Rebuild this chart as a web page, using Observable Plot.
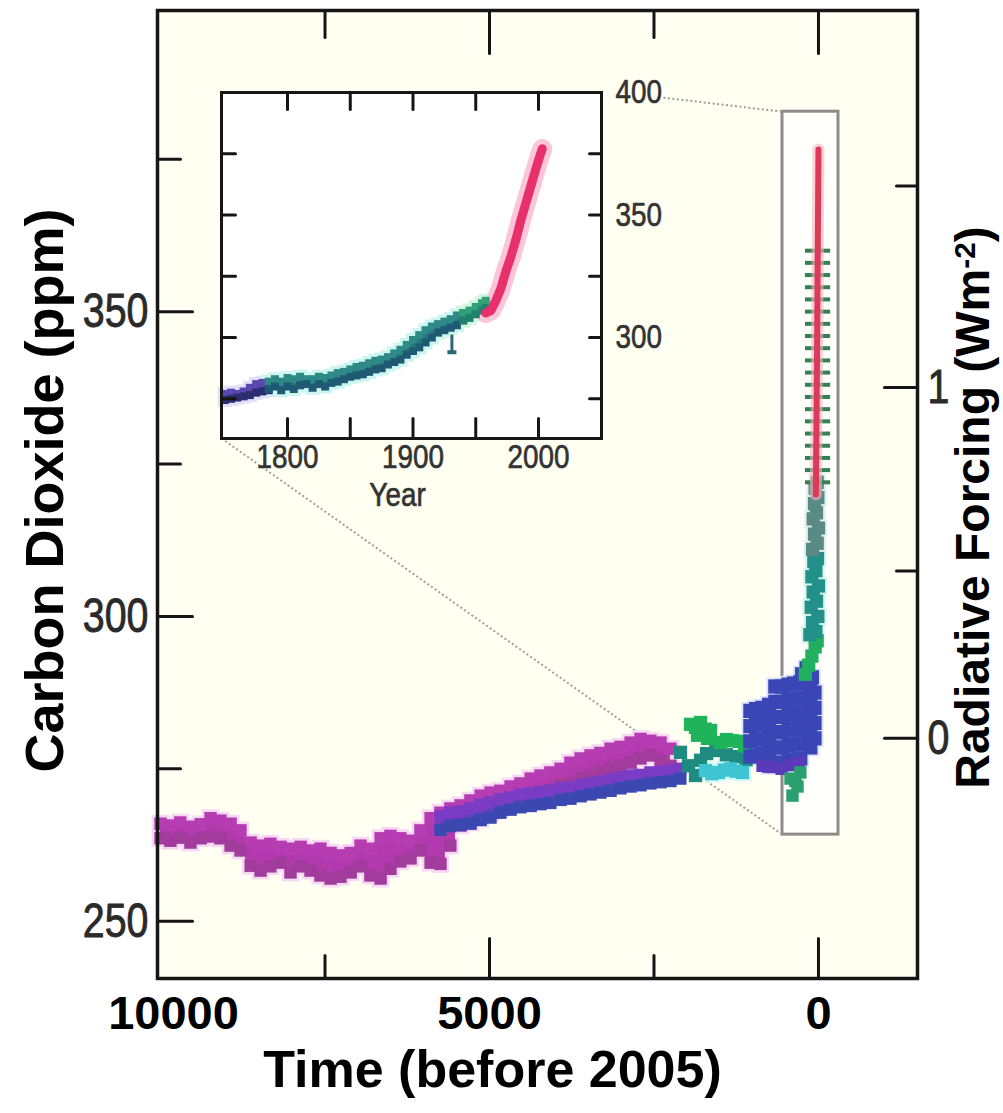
<!DOCTYPE html>
<html><head><meta charset="utf-8">
<script src="https://cdn.jsdelivr.net/npm/d3@7"></script>
<script src="https://cdn.jsdelivr.net/npm/@observablehq/plot@0.6"></script>
<style>
body{margin:0;background:#fff;}
#wrap{position:relative;width:1003px;height:1113px;overflow:hidden;}
#main{position:absolute;left:0;top:0;}
#inset{position:absolute;left:181px;top:62px;}
</style></head>
<body><div id="wrap"><div id="main"></div><div id="inset"></div></div>
<script>
// ---------------- MAIN CHART DATA (years before 2005, CO2 ppm) ----------------
const domeC_t  = [10000,9850,9700,9545,9390,9240,9090,8935,8785,8630,8480,8330,8175,8025,7870,7720,7570,7415,7265,7110,6960,6810,6655,6505,6355,6200,6050,5895,5745,5595,5440,5290,5135,4985,4835,4680,4530,4375,4225,4075,3920,3770,3615,3465,3315,3160,3010,2855,2705,2555,2400,2250];
const domeC_hi = [266.0,265.7,266.2,265.5,265.9,266.9,266.5,266.0,264.9,262.9,262.4,262.7,262.2,261.9,262.2,261.6,261.9,261.2,260.8,261.2,262.4,261.9,263.6,264.0,263.6,263.2,264.9,266.9,267.8,268.5,269.0,269.8,270.6,271.1,271.4,272.1,272.6,273.4,273.9,274.4,275.0,276.0,276.7,277.2,277.6,278.3,278.6,279.3,279.9,279.6,279.3,278.3];
const domeC_lo = [263.6,263.2,263.7,262.9,263.6,263.9,263.6,262.4,261.6,259.1,258.3,259.0,259.6,258.0,259.0,258.3,257.5,257.0,257.3,258.0,259.0,257.5,257.0,258.6,259.8,260.3,261.6,259.6,259.4,262.4,265.7,266.2,266.8,267.8,268.5,269.0,269.8,270.1,270.6,271.4,272.2,272.7,273.4,273.9,274.4,275.0,275.5,276.0,276.7,277.2,276.3,275.5];

const epica_t  = [5745,5595,5440,5290,5135,4985,4835,4680,4530,4375,4225,4075,3920,3770,3615,3465,3315,3160,3010,2855,2705,2555,2400,2250,2100];
const epica_hi = [267.2,267.8,268.0,268.5,269.1,269.5,270.0,270.3,270.8,271.0,271.2,271.4,271.8,271.9,272.3,272.6,272.9,273.2,273.6,273.9,274.0,274.4,274.5,274.7,275.0];
const epica_lo = [265.0,265.6,265.8,266.0,266.6,267.0,267.8,268.3,268.7,268.9,269.2,269.4,269.9,270.1,270.5,270.8,271.1,271.4,271.8,272.1,272.3,272.6,272.8,273.0,273.4];

const lawGreen = [[1945,282.3],[1870,281.8],[1793,282.6],[1720,281.5],[1641,281.3],[1839,280.5],[1687,280.0],[1489,279.3],[1400,279.8],[1307,279.6],[1200,279.5],[1125,278.8]];
const lawTeal  = [[2097,277.7],[1975,275.5],[1869,273.9],[1793,276.4],[1700,277.5],[1560,278.0],[1400,277.3],[1250,277.0],[1100,276.5]];
const lawCyan  = [[1717,274.7],[1620,274.2],[1520,274.4],[1430,274.8],[1338,275.0],[1250,274.6],[1155,274.4]];
const lawBlue  = [
  [1035,284.5],[1035,282],[1035,279.5],[1035,277],[950,284.8],[950,282.3],[950,279.8],[950,277.2],
  [853,285],[853,282.5],[853,280],[853,277.5],[750,285.5],[750,283],[750,280.5],[750,278],[750,275.5],
  [656,288.5],[656,286],[656,283.5],[656,281],[656,278.5],[656,276],[560,288.5],[560,286],[560,283.5],[560,281],[560,278.5],[560,276],
  [458,288.8],[458,286.3],[458,283.8],[458,281.3],[458,278.8],[458,276.3],[370,289],[370,286.5],[370,284],[370,281.5],[370,279],[370,276.5],
  [276,289.2],[276,286.7],[276,284.2],[276,281.7],[276,279.2],[276,276.7],[200,289],[200,286.5],[200,284],[200,281.5],[200,279],
  [124,288.5],[124,286],[124,283.5],[124,281],[124,278.5],[60,287.5],[60,285],[60,282.5],[60,280],
  [250,290.5],[180,291.5],[100,290]];
const lawPurple = [[850,275.5],[700,275.3],[560,275.0],[420,275.6],[300,276.0]];
const lawLowGreen = [[425,273.4],[319,272.1],[395,270.6],[276,274.4],[350,273.0]];
const riseGreen = [[200,290.5],[150,292],[100,293.5],[50,295],[20,296]];
const riseTeal  = [[130,297],[40,297.5],[90,299],[10,300],[110,301.5],[30,302.5],[80,304],[0,305],[100,306.5],[40,307.5],[70,309],[15,309.5]];
const riseGray  = [[90,311],[20,312],[60,313.5],[0,314.5],[80,316],[30,317],[60,318.5],[10,319.5],[50,321],[20,322]];
const ladder_t = 14;
const ladder_c = [322,324,326,328,330,332,334,336,338,340,342,344,346,348,350,352,354,356,358,360];
const maunaT = [40,35,30,25,20,15,10,5,0];
const maunaC = [320,326,332,339,346,354,361,369,376.6];

// zoom box and connector lines (main chart data coordinates)
const zoomBox = {t0:547, t1:-304, c0:264.2, c1:382.8};
const link_t0 = [2356, 9073], link_c0 = [385.1, 329.2];
const link_t1 = [547, 547],   link_c1 = [382.8, 264.2];

// axes
const xMajorTicks = [5000, 0], xMinorTicks = [7500, 2500];
const xLabels = [5000, 0], xLabelFirst = [10000];
const yMajor = [250, 300, 350], yMinor = [275, 325, 375];
const forceMajor = [0, 1], forceMinor = [0.5, 1.5];
const fToC = F => 280 * Math.exp(F / 5.35);

// ---------------- INSET DATA (year, ppm) ----------------
const insPurple_t  = [1750,1755,1760,1765,1770,1775,1780,1785];
const insPurple_hi = [277.0,277.5,277.0,278.0,279.5,281.0,281.5,281.0];
const insPurple_lo = [274.5,275.0,275.5,276.0,276.5,277.5,278.0,278.5];
const insTeal_t  = [1785,1790,1795,1800,1805,1810,1815,1820,1825,1830,1835,1840,1845,1850,1855,1860,1865,1870,1875,1880,1885,1890,1895,1900,1905,1910,1915,1920,1925,1930,1935,1940];
const insTeal_hi = [282,283,282,283.5,283,284,283,283,284,283.5,284.5,285.5,286,287,288,288.5,289.5,290.5,291,292,293.5,295,297,299,301,303,304.5,305.5,306.5,307.5,309,310];
const insTeal_lo = [279,280,278.5,280,279,280.5,281,279.5,281,280,281.5,282,283,284,284.5,285,286,287,287.5,289,290,291,293,294.5,296,298,300,302,303,304,305,307];
const insGreen_t  = [1940,1945,1950,1955,1958];
const insGreen_hi = [310,311,312.5,314,315];
const insGreen_lo = [307,308,309.5,311,312];
const insRed_t = [1958,1962,1966,1970,1974,1978,1982,1986,1990,1994,1998,2001,2003];
const insRed_c = [310,311,315,320,327,333,340,348,355,362,369,374,377];
const insBar = {year:1931, lo:294, hi:301};
const insXTicks = [1800,1850,1900,1950,2000];
const insXLabels = [1800,1900,2000];
const insYTicks = [275,300,325,350,375];
const insYLabels = [300,350,400];

// ---------------- helpers ----------------
const NARROW = "'Liberation Sans Narrow','Liberation Sans',Arial,sans-serif";
const BOLD = "'Liberation Sans',Arial,Helvetica,sans-serif";
const tickShape = {draw(ctx, l){ ctx.moveTo(0,0); ctx.lineTo(0,-l); }};
const dash = {draw(ctx, size){ const s = Math.sqrt(size/Math.PI); ctx.rect(-1.8*s, -2, 3.6*s, 4); }};
const vt = (data, o) => Plot.vector(data, {anchor:"start", shape:tickShape, stroke:"#151515", strokeWidth:3, ...o});
const band = (t, hi, lo) => t.map((d,i) => ({t:d, hi:hi[i], lo:lo[i]}));
const pts = arr => arr.map(([t,c]) => ({t, c}));

const dome = band(domeC_t, domeC_hi, domeC_lo);
const epica = band(epica_t, epica_hi, epica_lo);
const mauna = maunaT.map((t,i)=>({t, c:maunaC[i]}));
const links = link_t0.map((d,i)=>({t0:d, c0:link_c0[i], t1:link_t1[i], c1:link_c1[i]}));
const sq = (data, y, fill, r=7) => Plot.dot(data, {x:"t", y, symbol:"square", r, fill, stroke:null});
const lab = {fontFamily:NARROW, fill:"#2a2a2a", stroke:"#2a2a2a", strokeWidth:0.9};

const main = Plot.plot({
  width:1003, height:1113, marginLeft:157, marginRight:86, marginTop:10, marginBottom:135,
  style:{background:"transparent", overflow:"visible"},
  x:{domain:[10046,-1505], axis:null},
  y:{domain:[240.6,399.4], axis:null},
  marks:[
    Plot.frame({fill:"#fffff2", stroke:null}),
    Plot.rect([zoomBox], {x1:"t0", x2:"t1", y1:"c0", y2:"c1", fill:"#fffffb", stroke:"#8c8c8c", strokeWidth:3}),
    Plot.link(links, {x1:"t0", y1:"c0", x2:"t1", y2:"c1", stroke:"#a09f95", strokeWidth:2, strokeDasharray:"2,2.5"}),
    // halos
    sq(dome, "hi", "#f7d8f3", 10), sq(dome, "lo", "#f7d8f3", 10),
    sq(pts(lawBlue), "c", "#dde2fb", 10), sq(pts(lawCyan), "c", "#d6f8f6", 10),
    sq(pts(riseTeal), "c", "#d8f6f0", 10), sq(pts(riseGray), "c", "#e0f2ee", 10),
    // Dome C style band (magenta)
    Plot.areaY(dome, {x:"t", y1:"lo", y2:"hi", curve:"step", fill:"#b23aae"}),
    sq(dome, "hi", "#b63cb2"), sq(dome, "lo", "#a23c9c"),
    // lower band (purple / blue)
    Plot.areaY(epica, {x:"t", y1:"lo", y2:"hi", curve:"step", fill:"#6040bc"}),
    sq(epica, "hi", "#7a3cc4"), sq(epica, "lo", "#3a48b0"),
    // Law Dome style clusters
    sq(pts(lawTeal), "c", "#1f8a80", 7.5),
    sq(pts(lawCyan), "c", "#3ec4d2", 7.5),
    sq(pts(lawGreen), "c", "#20b45a", 7.5),
    sq(pts(lawBlue), "c", "#3a46b6", 8),
    sq(pts(lawPurple), "c", "#5a3ab8", 7),
    sq(pts(lawLowGreen), "c", "#2aa070", 7),
    sq(pts(riseGreen), "c", "#22b060", 7.5),
    sq(pts(riseTeal), "c", "#24908a", 7.5),
    sq(pts(riseGray), "c", "#5a8a86", 7.5),
    Plot.dot(ladder_c, {x:() => ladder_t, y:d=>d, symbol:dash, r:7, fill:"#347e58", stroke:null}),
    Plot.line(mauna, {x:"t", y:"c", stroke:"#f6b2c0", strokeWidth:12, strokeOpacity:0.6}),
    Plot.line(mauna, {x:"t", y:"c", stroke:"#dc3a58", strokeWidth:6}),
    // ticks
    vt(yMajor, {y:d=>d, frameAnchor:"left", rotate:90, length:35}),
    vt(yMinor, {y:d=>d, frameAnchor:"left", rotate:90, length:23}),
    vt(forceMajor, {y:d=>fToC(d), frameAnchor:"right", rotate:-90, length:33}),
    vt(forceMinor, {y:d=>fToC(d), frameAnchor:"right", rotate:-90, length:21}),
    vt(xMajorTicks, {x:d=>d, frameAnchor:"bottom", rotate:0, length:40}),
    vt(xMinorTicks, {x:d=>d, frameAnchor:"bottom", rotate:0, length:23}),
    vt(xMajorTicks, {x:d=>d, frameAnchor:"top", rotate:180, length:43}),
    vt(xMinorTicks, {x:d=>d, frameAnchor:"top", rotate:180, length:27}),
    Plot.frame({stroke:"#161616", strokeWidth:3.5}),
    // tick labels
    Plot.text(yMajor, {y:d=>d, text:d=>String(d), frameAnchor:"left", dx:-9, textAnchor:"end", fontSize:48, ...lab}),
    Plot.text(forceMajor, {y:d=>fToC(d), text:d=>String(d), frameAnchor:"right", dx:10, textAnchor:"start", fontSize:48, ...lab}),
    Plot.text(xLabels, {x:d=>d, text:d=>String(d), frameAnchor:"bottom", dy:50, textAnchor:"middle", fontSize:47, fontWeight:"bold", fontFamily:BOLD, fill:"#000"}),
    Plot.text(xLabelFirst, {x:d=>d, text:d=>String(d), frameAnchor:"bottom", dx:13, dy:50, textAnchor:"middle", fontSize:47, fontWeight:"bold", fontFamily:BOLD, fill:"#000"}),
    // titles
    Plot.text(["Time (before 2005)"], {text:d=>d, frameAnchor:"bottom", dx:-45, dy:108, textAnchor:"middle", fontSize:52, fontWeight:"bold", fontFamily:BOLD, fill:"#000"}),
    Plot.text(["Carbon Dioxide (ppm)"], {text:d=>d, frameAnchor:"left", dx:-112, dy:-4, rotate:-90, textAnchor:"middle", fontSize:54, fontWeight:"bold", fontFamily:BOLD, fill:"#000"}),
    Plot.text(["Radiative Forcing (Wm-2)"], {text:d=>d, frameAnchor:"right", dx:56, dy:13, rotate:-90, textAnchor:"middle", fontSize:48, fontWeight:"bold", fontFamily:BOLD, fill:"#000"})
  ]
});
document.getElementById("main").append(main);

// superscript for W m^-2
d3.select(main).selectAll("text").filter(function(){ return this.textContent === "Radiative Forcing (Wm-2)"; })
  .each(function(){
    const t = d3.select(this);
    t.text("Radiative Forcing (Wm");
    t.append("tspan").attr("dy","-0.45em").attr("font-size","62%").text("-2");
    t.append("tspan").attr("dy","0.28em").text(")");
  });

// ---------------- INSET ----------------
const iPurple = band(insPurple_t, insPurple_hi, insPurple_lo);
const iTeal = band(insTeal_t, insTeal_hi, insTeal_lo);
const iGreen = band(insGreen_t, insGreen_hi, insGreen_lo);
const iRed = insRed_t.map((t,i)=>({t, c:insRed_c[i]}));
const isq = (data, y, fill, r=4.5) => Plot.dot(data, {x:"t", y, symbol:"square", r, fill, stroke:null});
const ilab = {fontFamily:NARROW, fill:"#333", stroke:"#333", strokeWidth:0.7};

const inset = Plot.plot({
  width:500, height:480, marginLeft:40, marginRight:80, marginTop:30, marginBottom:104,
  style:{background:"transparent", overflow:"visible"},
  x:{domain:[1747.4, 2050.2], axis:null},
  y:{domain:[258.8, 400], axis:null},
  marks:[
    Plot.frame({fill:"#ffffff", stroke:null}),
    // halos
    isq(iPurple, "hi", "#e4e0fa", 8), isq(iPurple, "lo", "#e4e0fa", 8),
    isq(iTeal, "hi", "#cdf6f0", 8), isq(iTeal, "lo", "#cdf6f0", 8),
    isq(iGreen, "hi", "#d4f6dc", 8), isq(iGreen, "lo", "#d4f6dc", 8),
    Plot.line(iRed, {x:"t", y:"c", stroke:"#fbc6da", strokeWidth:20}),
    // bands
    Plot.areaY(iPurple, {x:"t", y1:"lo", y2:"hi", curve:"step", fill:"#3e3a8e"}),
    isq(iPurple, "hi", "#5a48b0"), isq(iPurple, "lo", "#2a2e70"),
    Plot.areaY(iTeal, {x:"t", y1:"lo", y2:"hi", curve:"step", fill:"#257a80"}),
    isq(iTeal, "hi", "#2e8a86"), isq(iTeal, "lo", "#1f5a74"),
    Plot.areaY(iGreen, {x:"t", y1:"lo", y2:"hi", curve:"step", fill:"#2a9272"}),
    isq(iGreen, "hi", "#30a078"), isq(iGreen, "lo", "#22806e"),
    Plot.ruleX([insBar], {x:"year", y1:"lo", y2:"hi", stroke:"#2a6a74", strokeWidth:3}),
    Plot.dot([insBar], {x:"year", y:"lo", symbol:dash, r:2.5, fill:"#2a6a74"}),
    Plot.line(iRed, {x:"t", y:"c", stroke:"#e8306c", strokeWidth:9}),
    // ticks
    vt(insXTicks, {x:d=>d, frameAnchor:"top", rotate:180, length:17}),
    vt(insXTicks, {x:d=>d, frameAnchor:"bottom", rotate:0, length:20}),
    vt(insYTicks, {y:d=>d, frameAnchor:"left", rotate:90, length:14}),
    vt(insYTicks, {y:d=>d, frameAnchor:"right", rotate:-90, length:12}),
    Plot.frame({stroke:"#161616", strokeWidth:3}),
    // labels
    Plot.text(insXLabels, {x:d=>d, text:d=>String(d), frameAnchor:"bottom", dy:29, textAnchor:"middle", fontSize:34, ...ilab}),
    Plot.text(insYLabels, {y:d=>d, text:d=>String(d), frameAnchor:"right", dx:14, textAnchor:"start", fontSize:34, ...ilab}),
    Plot.text(["Year"], {text:d=>d, frameAnchor:"bottom", dx:-14, dy:67, textAnchor:"middle", fontSize:34, ...ilab})
  ]
});
document.getElementById("inset").append(inset);

// horizontally condense the "narrow" labels (Helvetica Narrow look)
function condense(svg, sx){
  svg.querySelectorAll('g[font-family*="Narrow"] text').forEach(t => {
    let tr = t.getAttribute("transform");
    if (!tr) {
      const x = +t.getAttribute("x") || 0, y = +t.getAttribute("y") || 0;
      t.removeAttribute("x"); t.removeAttribute("y");
      tr = `translate(${x},${y})`;
    }
    t.setAttribute("transform", tr + ` scale(${sx},1)`);
  });
}
condense(main, 0.82);
condense(inset, 0.82);
</script>
</body></html>
